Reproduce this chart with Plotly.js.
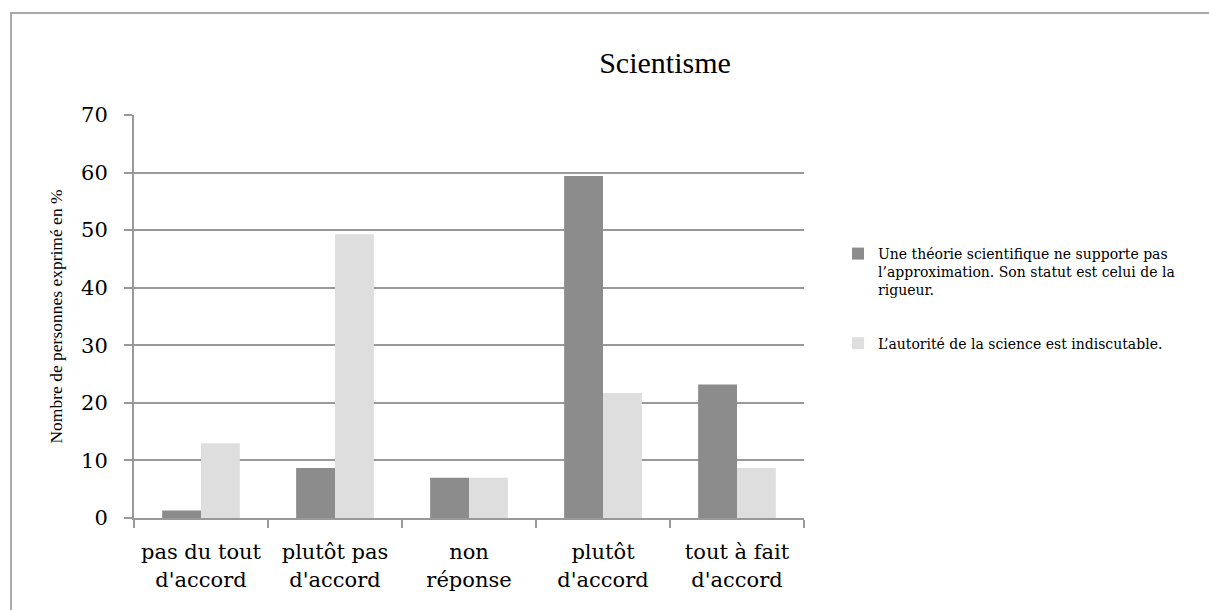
<!DOCTYPE html>
<html>
<head>
<meta charset="utf-8">
<script src="https://cdn.plot.ly/plotly-3.0.1.min.js"></script>
<style>html,body{margin:0;padding:0;background:#fff;}#chart{width:1209px;height:610px;}</style>
</head>
<body>
<div id="chart"></div>
<script>
const categories = ["pas du tout<br>d'accord", "plutôt pas<br>d'accord", "non<br>réponse", "plutôt<br>d'accord", "tout à fait<br>d'accord"];
const seriesNames = ["Une théorie scientifique ne supporte pas<br>l’approximation. Son statut est celui de la<br>rigueur.", "L’autorité de la science est indiscutable."];
const rigueurValues = [1.3, 8.7, 7.0, 59.4, 23.2];
const autoriteValues = [13.0, 49.3, 7.0, 21.7, 8.7];
const yTicks = [0, 10, 20, 30, 40, 50, 60, 70];

const serif = "DejaVu Serif, Liberation Serif, serif";
const traces = [
  {type: 'bar', x: categories, y: rigueurValues, name: seriesNames[0], legendgroup: 'a',
   marker: {color: '#8c8c8c'}},
  {type: 'bar', x: categories, y: autoriteValues, name: seriesNames[1], legendgroup: 'b',
   marker: {color: '#dedede'}}
];
const L = 134, R = 804, T = 115, B = 518;
const px = v => (v - L) / (R - L);
const py = v => (B - v) / (B - T);
const layout = {
  width: 1209, height: 610,
  margin: {l: L, r: 1209 - R, t: T, b: 610 - B},
  paper_bgcolor: '#ffffff', plot_bgcolor: '#ffffff',
  title: {text: 'Scientisme', x: 665 / 1209, xref: 'container', xanchor: 'center', y: 1 - 62 / 610, yref: 'container', yanchor: 'middle',
          font: {family: 'Liberation Serif, serif', size: 30, color: '#000'}},
  barmode: 'group', bargap: 0.42, bargroupgap: 0,
  showlegend: true,
  legend: {x: px(838), xanchor: 'left', y: py(238), yanchor: 'top', traceorder: 'grouped', tracegroupgap: 32,
           valign: 'top',
           font: {family: serif, size: 14, color: '#000'}, bgcolor: 'rgba(0,0,0,0)', itemwidth: 30},
  xaxis: {type: 'category', showgrid: false, showline: true, linecolor: '#999999', linewidth: 2,
          ticks: 'outside', tickson: 'boundaries', ticklen: 8, tickcolor: '#999999', tickwidth: 2,
          tickangle: 0, ticklabelstandoff: 14,
          tickfont: {family: serif, size: 21, color: '#000'}, fixedrange: true},
  yaxis: {range: [0, 70], tickvals: yTicks, showgrid: true, gridcolor: '#999999', gridwidth: 2,
          showline: true, linecolor: '#999999', linewidth: 2, zeroline: false,
          ticks: 'outside', ticklen: 8, tickcolor: '#999999', tickwidth: 2,
          ticklabelstandoff: 12,
          tickfont: {family: serif, size: 21, color: '#000'},
          title: {text: 'Nombre de personnes exprimé en %', standoff: 14, font: {family: 'Liberation Serif, serif', size: 17.5, color: '#000'}}},
  shapes: [
    {type: 'path', xref: 'paper', yref: 'paper',
     path: `M ${px(11)} ${py(612)} L ${px(11)} ${py(13)} L ${px(1212)} ${py(13)}`,
     line: {color: '#aaaaaa', width: 2}}
  ]
};
Plotly.newPlot('chart', traces, layout, {displayModeBar: false, staticPlot: true});
</script>
</body>
</html>
